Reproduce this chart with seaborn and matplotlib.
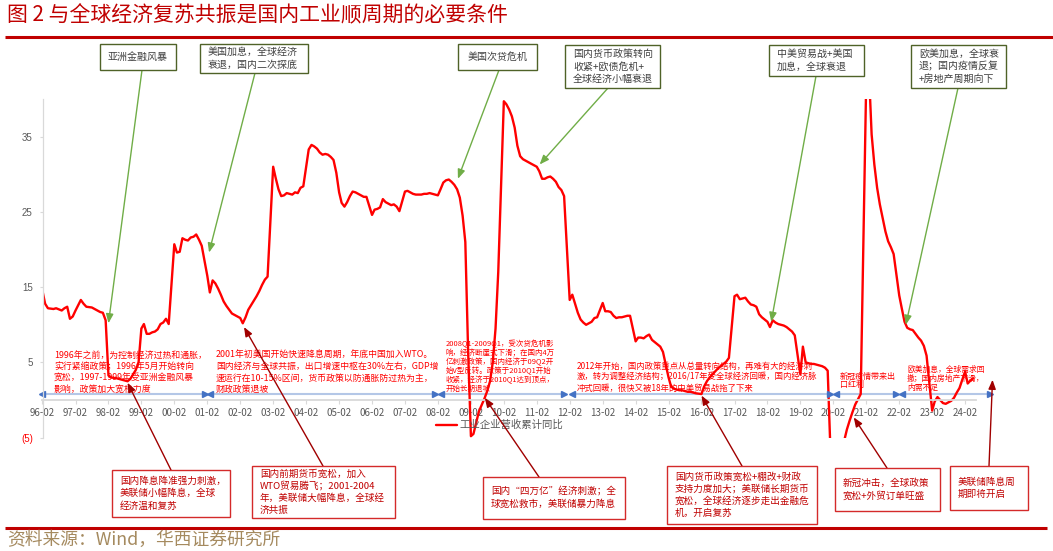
import pandas as pd
import seaborn as sns
import matplotlib.pyplot as plt
import matplotlib.dates as mdates
from matplotlib.patches import Rectangle

W, H = 1053, 551

# industrial enterprises revenue, cumulative yoy (%)
dates = [
    '1996-02', '1996-03', '1996-04', '1996-06', '1996-07', '1996-09', '1996-10', '1996-11', '1996-12',
    '1997-01', '1997-02', '1997-04', '1997-05', '1997-06', '1997-08', '1997-10', '1997-11', '1997-12',
    '1998-01', '1998-02', '1998-03', '1998-05', '1998-07', '1998-09', '1998-10', '1998-11', '1998-12',
    '1999-01', '1999-02', '1999-03', '1999-04', '1999-05', '1999-06', '1999-07', '1999-08', '1999-09',
    '1999-10', '1999-11', '1999-12',
    '2000-02', '2000-03', '2000-04', '2000-05', '2000-06', '2000-07', '2000-08', '2000-09', '2000-10',
    '2000-11', '2000-12',
    '2001-02', '2001-03', '2001-04', '2001-05', '2001-06', '2001-07', '2001-08', '2001-09', '2001-10',
    '2001-11', '2001-12',
    '2002-02', '2002-03', '2002-04', '2002-05', '2002-06', '2002-07', '2002-08', '2002-09', '2002-10',
    '2002-11', '2002-12',
    '2003-02', '2003-03', '2003-04', '2003-05', '2003-06', '2003-07', '2003-08', '2003-09', '2003-10',
    '2003-11', '2003-12',
    '2004-01', '2004-03', '2004-04', '2004-05', '2004-06', '2004-07', '2004-08', '2004-09', '2004-10',
    '2004-11', '2004-12',
    '2005-01', '2005-02', '2005-03', '2005-04', '2005-05', '2005-06', '2005-07', '2005-08', '2005-09',
    '2005-10', '2005-11', '2005-12',
    '2006-02', '2006-03', '2006-04', '2006-05', '2006-06', '2006-07', '2006-08', '2006-09', '2006-10',
    '2006-11', '2006-12',
    '2007-02', '2007-03', '2007-04', '2007-05', '2007-06', '2007-07', '2007-08', '2007-09', '2007-10',
    '2007-11', '2007-12',
    '2008-02', '2008-03', '2008-04', '2008-05', '2008-06', '2008-07', '2008-08', '2008-09', '2008-10',
    '2008-11', '2008-12',
    '2009-01', '2009-02', '2009-03', '2009-05', '2009-07', '2009-08', '2009-09', '2009-10', '2009-11',
    '2009-12',
    '2010-02', '2010-03', '2010-04', '2010-05', '2010-06', '2010-07', '2010-08', '2010-09', '2010-10',
    '2010-11', '2010-12',
    '2011-02', '2011-03', '2011-04', '2011-05', '2011-06', '2011-07', '2011-08', '2011-09', '2011-10',
    '2011-11', '2011-12',
    '2012-02', '2012-03', '2012-04', '2012-05', '2012-06', '2012-07', '2012-08', '2012-09', '2012-10',
    '2012-11', '2012-12',
    '2013-02', '2013-03', '2013-04', '2013-05', '2013-06', '2013-07', '2013-08', '2013-09', '2013-10',
    '2013-11', '2013-12',
    '2014-02', '2014-03', '2014-04', '2014-05', '2014-06', '2014-07', '2014-08', '2014-09', '2014-10',
    '2014-11', '2014-12',
    '2015-02', '2015-03', '2015-04', '2015-05', '2015-06', '2015-07', '2015-08', '2015-09', '2015-10',
    '2015-11', '2015-12',
    '2016-02', '2016-03', '2016-04', '2016-05', '2016-06', '2016-07', '2016-08', '2016-09', '2016-10',
    '2016-11', '2016-12',
    '2017-02', '2017-03', '2017-04', '2017-05', '2017-06', '2017-07', '2017-08', '2017-09', '2017-10',
    '2017-11', '2017-12',
    '2018-02', '2018-03', '2018-04', '2018-05', '2018-06', '2018-07', '2018-08', '2018-09', '2018-10',
    '2018-11', '2018-12',
    '2019-02', '2019-03', '2019-04', '2019-05', '2019-06', '2019-07', '2019-08', '2019-09', '2019-10',
    '2019-11', '2019-12',
    '2020-02', '2020-03', '2020-04', '2020-05', '2020-06', '2020-07', '2020-08', '2020-09', '2020-10',
    '2020-11', '2020-12',
    '2021-02', '2021-03', '2021-04', '2021-05', '2021-06', '2021-07', '2021-08', '2021-09', '2021-10',
    '2021-11', '2021-12',
    '2022-02', '2022-03', '2022-04', '2022-05', '2022-06', '2022-07', '2022-08', '2022-09', '2022-10',
    '2022-11', '2022-12',
    '2023-02', '2023-03', '2023-04', '2023-05', '2023-06', '2023-07', '2023-08', '2023-09', '2023-10',
    '2023-11', '2023-12',
    '2024-02', '2024-03', '2024-04', '2024-05',
]
values = [
    14.5, 12.8, 12.2, 12.1, 12.2, 11.9, 12.2, 12.4, 10.8,
    11.1, 11.9, 13.3, 12.8, 12.4, 12.3, 11.9, 11.7, 11.6,
    10.6, 3.3, 3.0, 2.9, 2.7, 2.5, 2.8, 3.4, 4.0,
    5.0, 9.5, 10.1, 8.8, 8.8, 9.0, 9.1, 9.4, 10.1,
    10.3, 10.8, 10.1,
    20.7, 19.6, 19.7, 21.5, 21.3, 21.2, 21.6, 21.7, 22.0,
    21.3, 20.5,
    16.5, 14.3, 15.9, 15.5, 14.8, 14.0, 13.1, 12.5, 12.0,
    11.5, 11.3,
    10.9, 10.2, 11.0, 12.0, 12.6, 13.2, 13.8, 14.5, 15.3,
    16.0, 16.4,
    31.0, 29.5, 28.0, 27.1, 27.2, 27.5, 27.4, 27.3, 27.6,
    27.5, 28.2,
    28.4, 33.3, 33.9, 33.7, 33.4, 32.9, 32.6, 32.7, 32.6,
    32.3, 31.9,
    30.2, 27.6, 26.2, 25.7, 26.3, 27.1, 27.7, 27.6, 27.4,
    27.2, 27.0, 27.0,
    24.6, 25.3, 25.4, 25.6, 26.7, 26.3, 26.1, 25.9, 26.0,
    25.7, 25.1,
    27.7, 27.8, 27.6, 27.4, 27.3, 27.3, 27.3, 27.4, 27.4,
    27.5, 27.4,
    27.2, 28.0, 28.9, 29.2, 29.3, 29.0, 28.6, 28.0, 26.9,
    24.5, 21.0,
    6.5, -4.8, -4.5, -1.5, 0.2, 1.2, 2.5, 5.0, 9.5,
    17.0,
    39.7, 39.3, 38.6, 37.7, 36.2, 33.8, 32.4, 32.0, 31.8,
    31.6, 31.4,
    31.0, 30.4, 29.4, 29.4, 29.6, 29.7, 29.4, 29.0, 28.3,
    27.9, 27.1,
    13.3, 14.0, 12.8, 11.6, 10.7, 10.3, 10.0, 10.2, 10.4,
    10.9, 11.0,
    12.9, 11.8, 11.8, 11.7, 11.2, 10.9, 11.0, 11.0, 11.1,
    11.2, 11.2,
    7.8, 8.3, 8.3, 8.2, 8.5, 8.7, 8.0, 7.7, 7.4,
    7.1, 6.4,
    3.0, 1.8, 1.5, 1.4, 1.3, 1.3, 1.2, 1.1, 1.1,
    1.0, 0.9,
    0.8, 1.8, 2.5, 3.0, 3.4, 3.8, 4.2, 4.5, 4.8,
    5.1, 5.6,
    13.8, 14.0, 13.4, 13.5, 13.6, 13.1, 12.7, 12.6, 12.4,
    11.4, 11.0,
    10.4, 9.7, 10.6, 10.3, 10.1, 10.0, 9.9, 9.7, 9.4,
    9.1, 8.6,
    3.4, 7.1, 5.0, 4.9, 4.8, 4.8, 4.7, 4.6, 4.5,
    4.3, 3.9,
    -17.7, -15.1, -11.8, -8.9, -5.4, -3.9, -2.7, -1.6, -0.6,
    0.1, 0.8,
    43.0, 44.0, 35.3, 31.3, 28.2, 26.0, 24.2, 22.4, 21.1,
    20.3, 19.4,
    13.9, 12.2, 10.4, 9.6, 9.4, 9.3, 8.8, 8.3, 7.9,
    7.2, 5.9,
    -1.4, -0.2, 0.4, 0.0, -0.4, -0.5, -0.3, -0.1, 0.3,
    1.0, 1.6,
    3.8, 2.2, 2.6, 2.9,
]
series_name = '工业企业营收累计同比'

tick_years = list(range(1996, 2025))
tick_labels = ['%02d-02' % (y % 100) for y in tick_years]
ytick_values = [-5, 5, 15, 25, 35]
ytick_labels = ['(5)', '5', '15', '25', '35']

# policy periods (blue double arrows)
span_start = ['1996-02', '2001-03', '2008-03', '2012-03', '2020-03', '2022-03']
span_end = ['2001-01', '2008-01', '2011-12', '2020-01', '2022-01', '2024-11']
span_level = 0.75

# top callouts: global background
top_boxes = [
    ((100, 44, 176, 70), ['亚洲金融风暴'], 'center'),
    ((200, 44, 308, 73), ['美国加息，全球经济', '衰退，国内二次探底'], 'left'),
    ((458, 44, 537, 70), ['美国次贷危机'], 'center'),
    ((565, 45, 660, 88), ['国内货币政策转向', '收紧+欧债危机+', '全球经济小幅衰退'], 'left'),
    ((769, 45, 864, 76), ['中美贸易战+美国', '加息，全球衰退'], 'left'),
    ((911, 45, 1006, 88), ['欧美加息，全球衰', '退；国内疫情反复', '+房地产周期向下'], 'left'),
]
top_tails = [(142, 70), (255, 73), (499, 70), (608, 88), (816, 76), (958, 88)]
top_tips = [('1998-02-01', 10.2), ('2001-02-20', 19.6), ('2008-09-10', 29.4),
            ('2011-03-05', 31.3), ('2018-03-15', 10.4), ('2022-04-15', 10.0)]

# bottom callouts: domestic policy
bottom_boxes = [
    ((112, 470, 230, 517), ['国内降息降准强力刺激，', '美联储小幅降息，全球', '经济温和复苏']),
    ((252, 466, 395, 518), ['国内前期货币宽松，加入', 'WTO贸易腾飞；2001-2004', '年，美联储大幅降息，全球经', '济共振']),
    ((483, 477, 625, 519), ['国内“四万亿”经济刺激；全', '球宽松救市，美联储暴力降息']),
    ((667, 466, 817, 524), ['国内货币政策宽松+棚改+财政', '支持力度加大；美联储长期货币',
                            '宽松，全球经济逐步走出金融危', '机，开启复苏']),
    ((835, 468, 940, 511), ['新冠冲击，全球政策', '宽松+外贸订单旺盛']),
    ((950, 466, 1028, 510), ['美联储降息周', '期即将开启']),
]
bottom_tails = [(171, 470), (323, 466), (539, 477), (742, 466), (887, 468), (989, 466)]
bottom_tips = [('1998-09-01', 2.3), ('2002-03-15', 9.7), ('2009-07-05', 0.3),
               ('2016-02-01', 0.6), ('2020-09-15', -2.3), ('2024-12-01', 2.7)]

# red notes inside the plot: (x, first line y, line step, font size, lines)
notes = [
    (54, 355, 11.5, 6.4, ['1996年之前，为控制经济过热和通胀，', '实行紧缩政策；1996年5月开始转向',
                          '宽松，1997-1999年受亚洲金融风暴', '影响，政策加大宽松力度']),
    (216, 355, 11.5, 6.4, ['2001年初美国开始快速降息周期，年底中国加入WTO。',
                           '国内经济与全球共振，出口增速中枢在30%左右，GDP增',
                           '速运行在10-15%区间，货币政策以防通胀防过热为主，', '财政政策退坡']),
    (446, 344.5, 8.8, 5.4, ['2008Q1-2009Q1，受次贷危机影', '响，经济断崖式下滑；在国内4万',
                            '亿刺激政策，国内经济于09Q2开', '始V型反转。政策于2010Q1开始',
                            '收紧，经济于2010Q1达到顶点，', '开始长期退坡']),
    (577, 366.5, 10.8, 6.0, ['2012年开始，国内政策重点从总量转向结构，再难有大的经济刺',
                             '激，转为调整经济结构；2016/17年受全球经济回暖，国内经济脉',
                             '冲式回暖，很快又被18年的中美贸易战拖了下来']),
    (840, 376, 8.6, 5.8, ['新冠疫情带来出', '口红利']),
    (907, 370, 9.0, 5.6, ['欧美加息，全球需求回', '撤；国内房地产下滑，', '内需不足']),
]

sns.set_theme(style='white')
plt.rcParams['font.family'] = ['Noto Sans CJK SC', 'DejaVu Sans']
plt.rcParams['axes.unicode_minus'] = False

fig = plt.figure(figsize=(W / 100, H / 100), dpi=100)
ax_l, ax_r, ax_t, ax_b = 42.5, 976, 99, 437.7
ax = fig.add_axes([ax_l / W, 1 - ax_b / H, (ax_r - ax_l) / W, (ax_b - ax_t) / H])

df = pd.DataFrame({'date': pd.to_datetime(dates), 'value': values})
sns.lineplot(data=df, x='date', y='value', color='#ff0000', linewidth=1.7, ax=ax, label=series_name)

ax.set_xlim(mdates.date2num(pd.Timestamp('1996-02-01')), mdates.date2num(pd.Timestamp('2024-06-01')))
ax.set_ylim(-5, 40)
ax.set_xlabel('')
ax.set_ylabel('')

tick_pos = [mdates.date2num(pd.Timestamp('%d-02-01' % y)) for y in tick_years]
ax.set_xticks(tick_pos, labels=tick_labels, fontfamily='Liberation Sans')
ax.set_yticks(ytick_values, labels=ytick_labels, fontfamily='Liberation Sans')
ax.get_yticklabels()[0].set_color('#ff0000')

for s in ['top', 'right']:
    ax.spines[s].set_visible(False)
ax.spines['bottom'].set_position(('data', 0))
ax.spines['bottom'].set_color('#d9d9d9')
ax.spines['bottom'].set_linewidth(1.3)
ax.spines['left'].set_color('#d9d9d9')
ax.spines['left'].set_linewidth(0.9)
ax.tick_params(axis='x', bottom=True, direction='out', length=3, width=0.8, color='#d9d9d9',
               pad=2.5, labelsize=7, labelcolor='#595959')
ax.tick_params(axis='y', left=True, direction='out', length=2.5, width=0.8, color='#d9d9d9',
               pad=4.5, labelsize=7)
for lab in ax.get_yticklabels()[1:]:
    lab.set_color('#595959')

# period arrows
for s, e in zip(span_start, span_end):
    xs = mdates.date2num(pd.to_datetime([s, e]))
    ax.plot(xs, [span_level, span_level], color='#b4c7e7', lw=1.5, clip_on=False, zorder=1)
    ax.plot(xs[0], span_level, marker='<', ms=5, color='#4472c4', clip_on=False, zorder=2)
    ax.plot(xs[1], span_level, marker='>', ms=5, color='#4472c4', clip_on=False, zorder=2)

leg = ax.legend(loc='center left', bbox_to_anchor=(436 / W, 1 - 425 / H), bbox_transform=fig.transFigure,
                frameon=False, fontsize=7.5, handlelength=2.0, handletextpad=0.3, borderpad=0,
                borderaxespad=0)
for t in leg.get_texts():
    t.set_color('#595959')

# overlay in pixel coordinates for the annotation layer
ov = fig.add_axes([0, 0, 1, 1], zorder=5)
ov.set_xlim(0, W)
ov.set_ylim(H, 0)
ov.axis('off')


def arrow(tail, tip, color, lw):
    d, v = tip
    ov.annotate('', xy=(mdates.date2num(pd.Timestamp(d)), v), xycoords=ax.transData,
                xytext=tail, textcoords='data',
                arrowprops=dict(arrowstyle='-|>,head_length=0.55,head_width=0.22', color=color, lw=lw,
                                shrinkA=0, shrinkB=0, mutation_scale=10))


def box(rect, lines, edge, tcolor, fs, align='left', dy=12.5, pad=8):
    x0, y0, x1, y1 = rect
    ov.add_patch(Rectangle((x0, y0), x1 - x0, y1 - y0, facecolor='white', edgecolor=edge, lw=1.0, zorder=3))
    yc = (y0 + y1) / 2
    n = len(lines)
    for i, line in enumerate(lines):
        y = yc + (i - (n - 1) / 2) * dy
        if align == 'center':
            ov.text((x0 + x1) / 2, y, line, ha='center', va='center', fontsize=fs, color=tcolor, zorder=4)
        else:
            ov.text(x0 + pad, y, line, ha='left', va='center', fontsize=fs, color=tcolor, zorder=4)


for x, y0, dy, fs, lines in notes:
    for i, line in enumerate(lines):
        ov.text(x, y0 + i * dy, line, ha='left', va='center', fontsize=fs, color='#ff0000')

for (rect, lines, align), tail, tip in zip(top_boxes, top_tails, top_tips):
    arrow(tail, tip, '#70ad47', 1.0)
    box(rect, lines, '#4f6228', '#404040', 7.2, align=align, dy=12.6)

for (rect, lines), tail, tip in zip(bottom_boxes, bottom_tails, bottom_tips):
    arrow(tail, tip, '#a00000', 1.0)
    box(rect, lines, '#d42a2a', '#c00000', 6.9, dy=12.2)

# header / footer
ov.text(7, 15, '图 2 与全球经济复苏共振是国内工业顺周期的必要条件', fontsize=15, color='#c00000',
        ha='left', va='center')
ov.plot([5, 1053], [36.5, 36.5], color='#c00000', lw=2.2, solid_capstyle='butt')
ov.plot([5, 1047], [527.5, 527.5], color='#c00000', lw=2.2, solid_capstyle='butt')
ov.text(7, 539.5, '资料来源：Wind，华西证券研究所', fontsize=12.8, color='#a58a5f', ha='left', va='center')

fig.savefig('out.png', dpi=100)
